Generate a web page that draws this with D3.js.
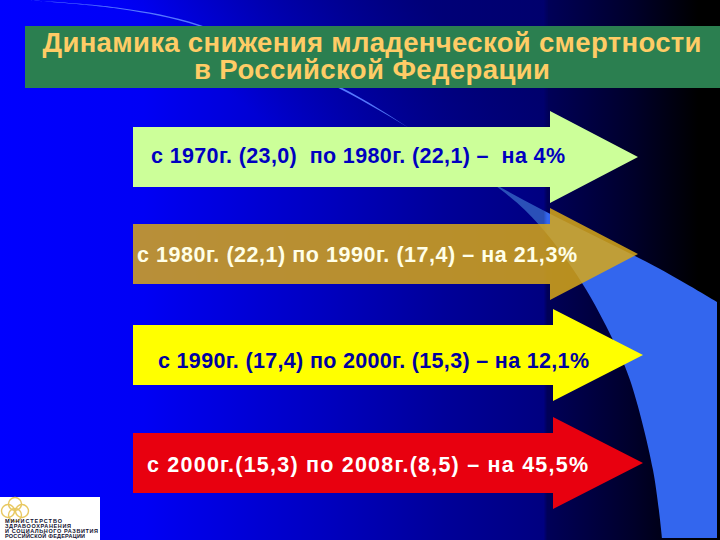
<!DOCTYPE html>
<html>
<head>
<meta charset="utf-8">
<style>
html, body { margin: 0; padding: 0; background: #000; }
svg { display: block; }
text { font-family: "Liberation Sans", Arial, sans-serif; font-weight: bold; }
</style>
<script src="https://cdn.jsdelivr.net/npm/d3@7"></script>
</head>
<body>
<svg class="chart"></svg>
<script>
// Values as printed on the slide
var titleLines = ["Динамика снижения младенческой смертности", "в Российской Федерации"];
var periods = ["1970-1980", "1980-1990", "1990-2000", "2000-2008"];
var arrowLabels = [
    "с 1970г. (23,0)  по 1980г. (22,1) –  на 4%",
    "с 1980г. (22,1) по 1990г. (17,4) – на 21,3%",
    "с 1990г. (17,4) по 2000г. (15,3) – на 12,1%",
    "с 2000г.(15,3) по 2008г.(8,5) – на 45,5%"
];
var logoLines = ["МИНИСТЕРСТВО", "ЗДРАВООХРАНЕНИЯ", "И СОЦИАЛЬНОГО РАЗВИТИЯ", "РОССИЙСКОЙ ФЕДЕРАЦИИ"];

var width = 720;
var height = 540;

var svg = d3.select("svg.chart").attr("width", width).attr("height", height);

// Arrow layout per period
var centerY = d3.scaleOrdinal().domain(periods).range([157, 254, 355, 463]);
var tipX = d3.scaleOrdinal().domain(periods).range([638, 638, 643, 643]);
var neckX = d3.scaleOrdinal().domain(periods).range([550, 550, 553, 553]);
var fill = d3.scaleOrdinal().domain(periods).range(["#ccff99", "#d8a818", "#ffff00", "#e8000f"]);
var textFill = d3.scaleOrdinal().domain(periods).range(["#0000c0", "#ffffe8", "#0000a0", "#ffffff"]);
var textX = d3.scaleOrdinal().domain(periods).range([151, 137, 158, 147]);
var textY = d3.scaleOrdinal().domain(periods).range([163, 262, 368, 472]);
var textLen = d3.scaleOrdinal().domain(periods).range([414, 440, 431, 441]);
var arrowOpacity = d3.scaleOrdinal().domain(periods).range([1, 0.85, 1, 1]);

var defs = svg.append("defs");
var bg = defs.append("linearGradient").attr("id", "bg");
[[0, "#0000ff"], [0.2, "#0000f5"], [0.45, "#0000c0"], [0.62, "#000098"], [0.755, "#000080"], [0.76, "#000058"], [0.88, "#00002a"], [0.97, "#000000"]]
    .forEach(function (s) { bg.append("stop").attr("offset", s[0]).attr("stop-color", s[1]); });

var topShade = defs.append("linearGradient").attr("id", "topShade")
    .attr("gradientUnits", "userSpaceOnUse")
    .attr("x1", 420).attr("y1", 0).attr("x2", 300).attr("y2", 150);
topShade.append("stop").attr("offset", 0).attr("stop-color", "#000060").attr("stop-opacity", 0.6);
topShade.append("stop").attr("offset", 1).attr("stop-color", "#000060").attr("stop-opacity", 0);

var crescentFill = defs.append("linearGradient").attr("id", "crescentFill")
    .attr("gradientUnits", "userSpaceOnUse")
    .attr("x1", 0).attr("y1", 0).attr("x2", width).attr("y2", 0);
[[0, "#5577ff"], [0.5, "#5577ff"], [0.68, "#2a50b8"], [0.755, "#2a50b8"], [0.76, "#3366ee"], [1, "#3366ee"]]
    .forEach(function (s) { crescentFill.append("stop").attr("offset", s[0]).attr("stop-color", s[1]); });

svg.append("rect").attr("width", width).attr("height", height).attr("fill", "url(#bg)");
svg.append("rect").attr("width", 548).attr("height", 150).attr("fill", "url(#topShade)");

// Light blue crescent behind the arrows
var curve = d3.line().curve(d3.curveCatmullRom.alpha(0.5));
var outer = [[25, 0], [120, 8], [200, 25], [350, 92], [500, 187], [660, 269], [717, 302]];
var inner = [[662, 538], [653, 470], [630, 380], [613, 340], [582, 283], [540, 226], [500, 189], [350, 94], [200, 26.5], [120, 9], [25, 0]];
svg.append("path")
    .attr("d", curve(outer) + "L717,538" + curve(inner).replace("M", "L") + "Z")
    .attr("fill", "url(#crescentFill)");

svg.append("rect").attr("x", 25).attr("y", 26).attr("width", 695).attr("height", 62).attr("fill", "#2b7f50");
svg.selectAll("text.title")
    .data(titleLines)
    .enter()
    .append("text")
    .attr("class", "title")
    .attr("x", 372)
    .attr("y", function (d, i) { return 52 + i * 27; })
    .attr("text-anchor", "middle")
    .attr("font-size", 27.5)
    .attr("textLength", function (d, i) { return i === 0 ? 659 : 356; })
    .attr("fill", "#ffcc66")
    .text(function (d) { return d; });

var rows = svg.selectAll("g.arrow")
    .data(periods)
    .enter()
    .append("g")
    .attr("class", "arrow");

var shaft = 30;
var head = 46;
var arrowLine = d3.line();

rows.append("path")
    .attr("d", function (p) {
        var y = centerY(p);
        return arrowLine([
            [133, y - shaft], [neckX(p), y - shaft], [neckX(p), y - head], [tipX(p), y],
            [neckX(p), y + head], [neckX(p), y + shaft], [133, y + shaft]
        ]) + "Z";
    })
    .attr("fill", function (p) { return fill(p); })
    .attr("fill-opacity", function (p) { return arrowOpacity(p); });

rows.append("text")
    .attr("x", function (p) { return textX(p); })
    .attr("y", function (p) { return textY(p); })
    .attr("font-size", 21.5)
    .attr("xml:space", "preserve")
    .style("white-space", "pre")
    .attr("textLength", function (p) { return textLen(p); })
    .attr("fill", function (p) { return textFill(p); })
    .text(function (p, i) { return arrowLabels[i]; });

// Ministry logo, bottom left corner
var logo = svg.append("g");
logo.append("rect").attr("x", 0).attr("y", 497).attr("width", 100).attr("height", 43).attr("fill", "#ffffff");
[[15, 504], [8, 511], [22, 511], [15, 515]].forEach(function (c) {
    logo.append("circle").attr("cx", c[0]).attr("cy", c[1]).attr("r", 6.5)
        .attr("fill", "none").attr("stroke", "#e8c860").attr("stroke-width", 1.4);
});
logo.selectAll("text")
    .data(logoLines)
    .enter()
    .append("text")
    .attr("x", 5)
    .attr("y", function (d, i) { return 523 + i * 5; })
    .attr("font-size", 5.5)
    .attr("textLength", function (d, i) { return [57, 66, 93, 80][i]; })
    .attr("fill", "#101030")
    .text(function (d) { return d; });
</script>
</body>
</html>
